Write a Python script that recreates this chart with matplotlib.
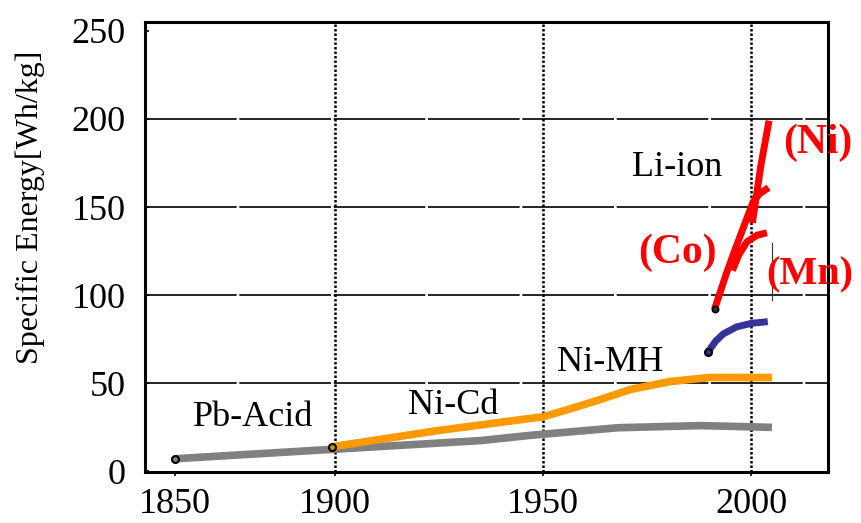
import numpy as np
import matplotlib
matplotlib.use('Agg')
import matplotlib.pyplot as plt

plt.rcParams['font.family'] = ['Liberation Serif', 'DejaVu Serif']

# curves (year, Wh/kg)
pb_year = [1861.5, 1899, 1935, 1947, 1968, 1988, 2005]
pb_val = [7.2, 12.5, 17.5, 20.5, 24.8, 26, 25]

nicd_year = [1899.2, 1925, 1945, 1950, 1956.5, 1964, 1971, 1980.5, 1990, 2005]
nicd_val = [14, 23.3, 29.5, 31, 35.5, 41, 46.5, 51, 53.3, 53.3]

nimh_year = [1989.7, 1991.5, 1993.3, 1996.5, 2000, 2004]
nimh_val = [68, 74, 78, 82, 84, 85]

co_year = [1991.2, 1994, 1996, 1999.2, 2000.5, 2002, 2004.2]
co_val = [92, 112, 125, 145, 153, 157.5, 161]

ni_year = [2000.3, 2002.3, 2004.3]
ni_val = [141, 173, 199]

mn_year = [1995.5, 1997, 1999, 2001.4, 2003.8]
mn_val = [114, 122.7, 130.3, 134, 135.4]

mark_year = [2005.0, 2005.0]
mark_val = [97, 129.5]

xtick_pos = [1861.5, 1900, 1950, 2000]
xtick_labels = ['1850', '1900', '1950', '2000']
yticks = [0, 50, 100, 150, 200, 250]

fig = plt.figure(figsize=(8.61, 5.23), dpi=100)
ax = fig.add_axes([0.1684, 0.0969, 0.7929, 0.8611])
ax.set_xlim(1854.3, 2018.4)
ax.set_ylim(-0.5, 255)

# grid: dashed horizontals, dotted verticals
for y in yticks[1:-1]:
    ax.axhline(y, color='black', lw=1.2, ls=(0, (55, 1.6)), zorder=1)
for x in xtick_pos[1:]:
    ax.axvline(x, color='black', lw=1.8, ls=(0, (1, 0.8)), zorder=1)

lw = 5.5
ax.plot(pb_year, pb_val, color='#808080', lw=lw, solid_capstyle='butt', zorder=2)
ax.plot(nicd_year, nicd_val, color='#FF9900', lw=lw, solid_capstyle='butt', zorder=3)
ax.plot(nimh_year, nimh_val, color='#333399', lw=5, solid_capstyle='butt', zorder=3)
ax.plot(co_year, co_val, color='#FF0000', lw=5, solid_capstyle='butt', zorder=3)
ax.plot(ni_year, ni_val, color='#FF0000', lw=5, solid_capstyle='butt', zorder=3)
ax.plot(mn_year, mn_val, color='#FF0000', lw=5, solid_capstyle='butt', zorder=3)
ax.plot(mark_year, mark_val, color='#333333', lw=0.8, zorder=3)

# start markers
ax.plot(pb_year[0], pb_val[0], 'o', ms=5, mfc='#808080', mec='black', mew=1.5, zorder=4)
ax.plot(nicd_year[0], nicd_val[0], 'o', ms=5, mfc='#CC9900', mec='black', mew=1.5, zorder=4)
ax.plot(nimh_year[0], nimh_val[0], 'o', ms=5, mfc='#333399', mec='black', mew=1.5, zorder=4)
ax.plot(co_year[0], co_val[0], 'o', ms=4.5, mfc='#333333', mec='black', mew=1.2, zorder=4)

ax.text(1880.3, 30.7, 'Pb-Acid', fontsize=26, ha='center', va='center')
ax.text(1928.4, 37.5, 'Ni-Cd', fontsize=26, ha='center', va='center')
ax.text(1966.1, 62, 'Ni-MH', fontsize=26, ha='center', va='center')
ax.text(1982.2, 172.7, 'Li-ion', fontsize=26, ha='center', va='center')
ax.text(2015.9, 186.4, '(Ni)', fontsize=30, fontweight='bold', color='#FF0000', ha='center', va='center')
ax.text(1982.2, 123.9, '(Co)', fontsize=30, fontweight='bold', color='#FF0000', ha='center', va='center')
ax.text(2014.2, 111.4, '(Mn)', fontsize=29, fontweight='bold', color='#FF0000', ha='center', va='center')

ax.set_xticks(xtick_pos)
ax.set_xticklabels(xtick_labels)
ax.set_yticks(yticks)
ax.tick_params(axis='x', labelsize=26, length=3, width=1.2, direction='out', pad=8)
ax.tick_params(axis='y', labelsize=26, length=3, width=1.2, direction='in', pad=14)

for s in ax.spines.values():
    s.set_linewidth(2.2)
    s.set_color('black')

fig.text(30 / 861, 1 - 207 / 523, 'Specific Energy[Wh/kg]', fontsize=23,
         rotation=90, ha='center', va='center')

fig.savefig('out.png', dpi=100)
